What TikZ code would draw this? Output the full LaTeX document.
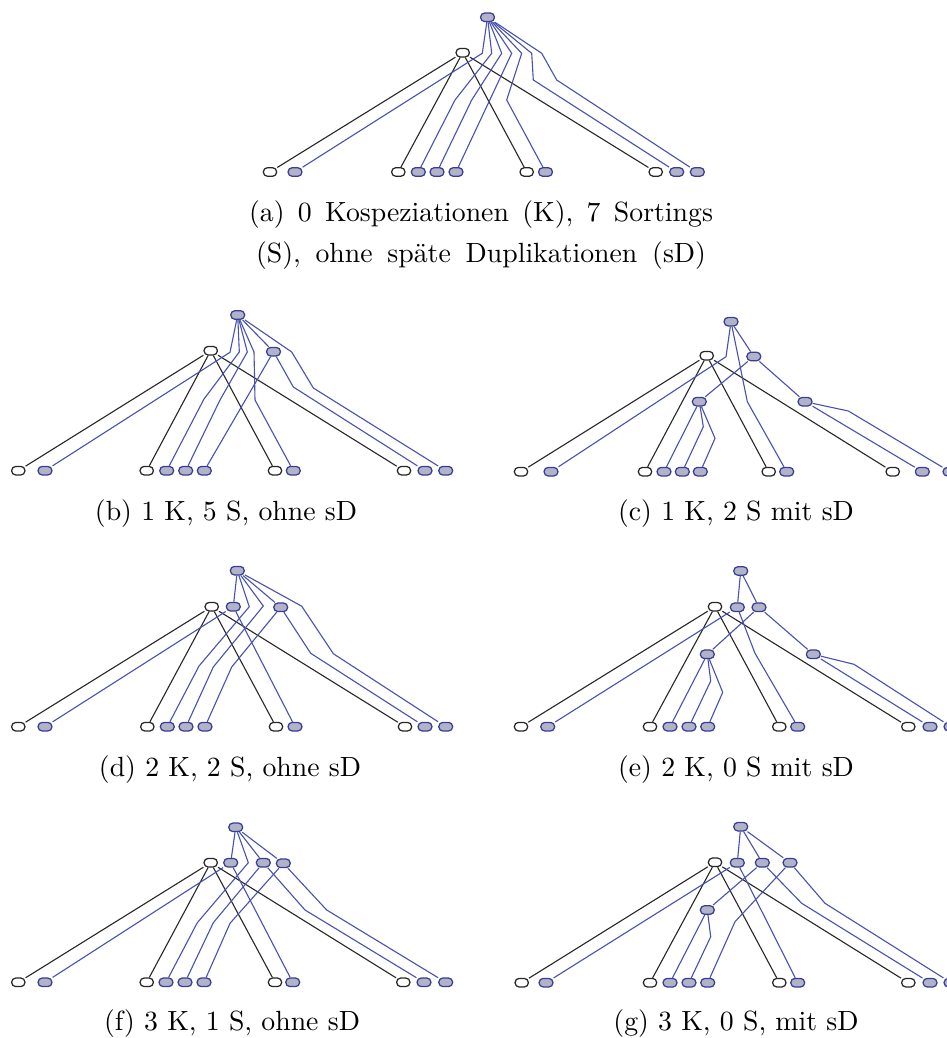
\documentclass[tikz,border=0pt]{standalone}
\usepackage{tikz}
\definecolor{genfill}{RGB}{178,178,200}
\definecolor{gendraw}{RGB}{55,62,150}
\definecolor{genlinie}{RGB}{72,82,178}
\definecolor{wirtlinie}{RGB}{40,40,40}
\begin{document}
\begin{tikzpicture}[x=0.36pt, y=-0.36pt,
    wirt/.style={draw=wirtlinie, fill=white, rounded corners=1.5pt, minimum width=4.8pt, minimum height=3.1pt, inner sep=0pt, line width=0.45pt},
    gen/.style={draw=gendraw, fill=genfill, rounded corners=1.5pt, minimum width=5pt, minimum height=3.1pt, inner sep=0pt, line width=0.45pt},
    wk/.style={wirtlinie, line width=0.4pt},
    gk/.style={genlinie, line width=0.4pt},
    titel/.style={font=\normalsize, anchor=base}]
    \useasboundingbox (0,0) rectangle (946,1038);
    % (a)
    \node[wirt] (aW) at (462.7,52.7) {};
    \node[gen] (aG) at (487.5,17.3) {};
    \node[wirt] (aw1) at (270,172) {};
    \node[wirt] (aw2) at (398.3,172) {};
    \node[wirt] (aw3) at (526.7,172) {};
    \node[wirt] (aw4) at (655.7,172) {};
    \node[gen] (ag1) at (295,172) {};
    \node[gen] (ag2) at (418.3,172) {};
    \node[gen] (ag3) at (437,172) {};
    \node[gen] (ag4) at (456,172) {};
    \node[gen] (ag5) at (545.5,172) {};
    \node[gen] (ag6) at (676.7,172) {};
    \node[gen] (ag7) at (697.3,172) {};
    \draw[wk] (aW) -- (aw1);
    \draw[wk] (aW) -- (aw2);
    \draw[wk] (aW) -- (aw3);
    \draw[wk] (aW) -- (aw4);
    \draw[gk] (aG) -- (482.3,53.3) -- (ag1);
    \draw[gk] (aG) -- (491.7,53.3) -- (455,100) -- (ag2);
    \draw[gk] (aG) -- (501.7,53.3) -- (471.7,100) -- (ag3);
    \draw[gk] (aG) -- (511.7,53.3) -- (ag4);
    \draw[gk] (aG) -- (521.7,53.3) -- (506.7,100) -- (ag5);
    \draw[gk] (aG) -- (531.7,53.3) -- (533.3,80) -- (ag6);
    \draw[gk] (aG) -- (541.7,53.3) -- (556.7,80) -- (ag7);
    \node[titel, align=center] (aT) at (481,263) {\makebox[167pt][s]{(a) 0 Kospeziationen (K), 7 Sortings}\\[3pt]\makebox[162pt][s]{(S), ohne späte Duplikationen (sD)}};
    % (b)
    \node[wirt] (bW) at (210.7,350.7) {};
    \node[gen] (bG) at (237.7,315) {};
    \node[gen] (bK1) at (273.5,351.7) {};
    \node[wirt] (bw1) at (18.3,470.7) {};
    \node[wirt] (bw2) at (146.7,470.7) {};
    \node[wirt] (bw3) at (275,470.7) {};
    \node[wirt] (bw4) at (404,470.7) {};
    \node[gen] (bg1) at (45,470.7) {};
    \node[gen] (bg2) at (166.7,470.7) {};
    \node[gen] (bg3) at (185.7,470.7) {};
    \node[gen] (bg4) at (204.3,470.7) {};
    \node[gen] (bg5) at (293.3,470.7) {};
    \node[gen] (bg6) at (425,470.7) {};
    \node[gen] (bg7) at (445.7,470.7) {};
    \draw[wk] (bW) -- (bw1);
    \draw[wk] (bW) -- (bw2);
    \draw[wk] (bW) -- (bw3);
    \draw[wk] (bW) -- (bw4);
    \draw[gk] (bG) -- (230,352.3) -- (bg1);
    \draw[gk] (bG) -- (239.3,352) -- (204,399) -- (bg2);
    \draw[gk] (bG) -- (247.3,352) -- (220,400) -- (bg3);
    \draw[gk] (bG) -- (bK1);
    \draw[gk] (bK1) -- (bg4);
    \draw[gk] (bG) -- (254,352) -- (255,400) -- (bg5);
    \draw[gk] (bK1) -- (293.3,387) -- (bg6);
    \draw[gk] (bG) -- (291.7,352) -- (313.3,388) -- (bg7);
    \node[titel] (bT) at (226,521) {(b) 1 K, 5 S, ohne sD};
    % (c)
    \node[wirt] (cW) at (706.7,355.7) {};
    \node[gen] (cG) at (731,321.7) {};
    \node[gen] (cK1) at (753.8,356.5) {};
    \node[gen] (cK2) at (699.3,401.7) {};
    \node[gen] (cK3) at (805,401.7) {};
    \node[wirt] (cw1) at (521,471.7) {};
    \node[wirt] (cw2) at (645,471.7) {};
    \node[wirt] (cw3) at (768.7,471.7) {};
    \node[wirt] (cw4) at (892.7,471.7) {};
    \node[gen] (cg1) at (551,471.7) {};
    \node[gen] (cg2) at (664,471.7) {};
    \node[gen] (cg3) at (682.3,471.7) {};
    \node[gen] (cg4) at (700.3,471.7) {};
    \node[gen] (cg5) at (786.7,471.7) {};
    \node[gen] (cg6) at (922.3,471.7) {};
    \node[gen] (cg7) at (950,471.7) {};
    \draw[wk] (cW) -- (cw1);
    \draw[wk] (cW) -- (cw2);
    \draw[wk] (cW) -- (cw3);
    \draw[wk] (cW) -- (cw4);
    \draw[gk] (cG) -- (726,356.7) -- (cg1);
    \draw[gk] (cG) -- (cK1);
    \draw[gk] (cG) -- (747.3,401.7) -- (cg5);
    \draw[gk] (cK1) -- (cK2);
    \draw[gk] (cK1) -- (cK3);
    \draw[gk] (cK2) -- (cg2);
    \draw[gk] (cK2) -- (703.3,426.7) -- (cg3);
    \draw[gk] (cK2) -- (715,438.3) -- (cg4);
    \draw[gk] (cK3) -- (cg6);
    \draw[gk] (cK3) -- (848.3,411) -- (cg7);
    \node[titel] (cT) at (736,521) {(c) 1 K, 2 S mit sD};
    % (d)
    \node[wirt] (dW) at (211.7,606.7) {};
    \node[gen] (dG) at (237.3,570.7) {};
    \node[gen] (dK1) at (233.3,606.7) {};
    \node[gen] (dK2) at (280.7,607.3) {};
    \node[wirt] (dw1) at (18.3,726.7) {};
    \node[wirt] (dw2) at (147.3,726.7) {};
    \node[wirt] (dw3) at (276,726.7) {};
    \node[wirt] (dw4) at (405,726.7) {};
    \node[gen] (dg1) at (45,726.7) {};
    \node[gen] (dg2) at (167.3,726.7) {};
    \node[gen] (dg3) at (186,726.7) {};
    \node[gen] (dg4) at (205,726.7) {};
    \node[gen] (dg5) at (295,726.7) {};
    \node[gen] (dg6) at (425,726.7) {};
    \node[gen] (dg7) at (445.7,726.7) {};
    \draw[wk] (dW) -- (dw1);
    \draw[wk] (dW) -- (dw2);
    \draw[wk] (dW) -- (dw3);
    \draw[wk] (dW) -- (dw4);
    \draw[gk] (dG) -- (dK1);
    \draw[gk] (dK1) -- (dg1);
    \draw[gk] (dK1) -- (dg5);
    \draw[gk] (dG) -- (249.3,606.7) -- (199,666) -- (dg2);
    \draw[gk] (dG) -- (263.3,606) -- (213.3,667) -- (dg3);
    \draw[gk] (dG) -- (dK2);
    \draw[gk] (dK2) -- (231.7,667) -- (dg4);
    \draw[gk] (dK2) -- (310.7,653.3) -- (dg6);
    \draw[gk] (dG) -- (301.7,606.2) -- (333.3,653.7) -- (dg7);
    \node[titel] (dT) at (230,776) {(d) 2 K, 2 S, ohne sD};
    % (e)
    \node[wirt] (eW) at (715,606.7) {};
    \node[gen] (eG) at (740.7,571) {};
    \node[gen] (eK1) at (737.3,607.3) {};
    \node[gen] (eK2) at (759,607.3) {};
    \node[gen] (eK3) at (707.3,654.3) {};
    \node[gen] (eK4) at (813.3,654.3) {};
    \node[wirt] (ew1) at (521,726.7) {};
    \node[wirt] (ew2) at (650,726.7) {};
    \node[wirt] (ew3) at (779.3,726.7) {};
    \node[wirt] (ew4) at (908.3,726.7) {};
    \node[gen] (eg1) at (547.7,726.7) {};
    \node[gen] (eg2) at (670,726.7) {};
    \node[gen] (eg3) at (689,726.7) {};
    \node[gen] (eg4) at (707.7,726.7) {};
    \node[gen] (eg5) at (797.7,726.7) {};
    \node[gen] (eg6) at (930,726.7) {};
    \node[gen] (eg7) at (951,726.7) {};
    \draw[wk] (eW) -- (ew1);
    \draw[wk] (eW) -- (ew2);
    \draw[wk] (eW) -- (ew3);
    \draw[wk] (eW) -- (ew4);
    \draw[gk] (eG) -- (eK1);
    \draw[gk] (eG) -- (eK2);
    \draw[gk] (eK1) -- (eg1);
    \draw[gk] (eK1) -- (755,653.3) -- (eg5);
    \draw[gk] (eK2) -- (eK3);
    \draw[gk] (eK2) -- (eK4);
    \draw[gk] (eK3) -- (eg2);
    \draw[gk] (eK3) -- (710.7,681) -- (eg3);
    \draw[gk] (eK3) -- (722.7,692.3) -- (eg4);
    \draw[gk] (eK4) -- (eg6);
    \draw[gk] (eK4) -- (854,664.3) -- (eg7);
    \node[titel] (eT) at (736,776) {(e) 2 K, 0 S mit sD};
    % (f)
    \node[wirt] (fW) at (210.7,862.7) {};
    \node[gen] (fG) at (235.7,827.3) {};
    \node[gen] (fK1) at (230.7,862.7) {};
    \node[gen] (fK2) at (263.3,862.7) {};
    \node[gen] (fK3) at (283.3,863.3) {};
    \node[wirt] (fw1) at (18.3,982.3) {};
    \node[wirt] (fw2) at (146.7,982.3) {};
    \node[wirt] (fw3) at (275,982.3) {};
    \node[wirt] (fw4) at (403.3,982.3) {};
    \node[gen] (fg1) at (45,982.3) {};
    \node[gen] (fg2) at (166,982.3) {};
    \node[gen] (fg3) at (185,982.3) {};
    \node[gen] (fg4) at (204,982.3) {};
    \node[gen] (fg5) at (292.7,982.3) {};
    \node[gen] (fg6) at (424,982.3) {};
    \node[gen] (fg7) at (445.7,982.3) {};
    \draw[wk] (fW) -- (fw1);
    \draw[wk] (fW) -- (fw2);
    \draw[wk] (fW) -- (fw3);
    \draw[wk] (fW) -- (fw4);
    \draw[gk] (fG) -- (fK1);
    \draw[gk] (fG) -- (fK2);
    \draw[gk] (fG) -- (fK3);
    \draw[gk] (fG) -- (248.3,862.7) -- (197.3,922.7) -- (fg2);
    \draw[gk] (fK1) -- (fg1);
    \draw[gk] (fK1) -- (fg5);
    \draw[gk] (fK2) -- (213.3,922.7) -- (fg3);
    \draw[gk] (fK2) -- (305,910) -- (fg6);
    \draw[gk] (fK3) -- (230,923.3) -- (fg4);
    \draw[gk] (fK3) -- (326.7,910) -- (fg7);
    \node[titel] (fT) at (232,1030) {(f) 3 K, 1 S, ohne sD};
    % (g)
    \node[wirt] (gW) at (715,862.3) {};
    \node[gen] (gG) at (740.7,826.7) {};
    \node[gen] (gK1) at (737.3,862.7) {};
    \node[gen] (gK2) at (762.3,862.7) {};
    \node[gen] (gK3) at (790,862.7) {};
    \node[gen] (gK4) at (707.3,910) {};
    \node[wirt] (gw1) at (521.7,982.7) {};
    \node[wirt] (gw2) at (650,982.7) {};
    \node[wirt] (gw3) at (779.3,982.7) {};
    \node[wirt] (gw4) at (908.3,982.7) {};
    \node[gen] (gg1) at (546,982.7) {};
    \node[gen] (gg2) at (670,982.7) {};
    \node[gen] (gg3) at (689,982.7) {};
    \node[gen] (gg4) at (707.7,982.7) {};
    \node[gen] (gg5) at (797.7,982.7) {};
    \node[gen] (gg6) at (930,982.7) {};
    \node[gen] (gg7) at (951,982.7) {};
    \draw[wk] (gW) -- (gw1);
    \draw[wk] (gW) -- (gw2);
    \draw[wk] (gW) -- (gw3);
    \draw[wk] (gW) -- (gw4);
    \draw[gk] (gG) -- (gK1);
    \draw[gk] (gG) -- (gK2);
    \draw[gk] (gG) -- (gK3);
    \draw[gk] (gK1) -- (gg1);
    \draw[gk] (gK1) -- (gg5);
    \draw[gk] (gK2) -- (gK4);
    \draw[gk] (gK2) -- (801.7,903.3) -- (gg6);
    \draw[gk] (gK3) -- (735,921.7) -- (gg4);
    \draw[gk] (gK3) -- (825,903.3) -- (gg7);
    \draw[gk] (gK4) -- (gg2);
    \draw[gk] (gK4) -- (710.7,936.7) -- (gg3);
    \node[titel] (gT) at (736,1030) {(g) 3 K, 0 S, mit sD};
\end{tikzpicture}
\end{document}
